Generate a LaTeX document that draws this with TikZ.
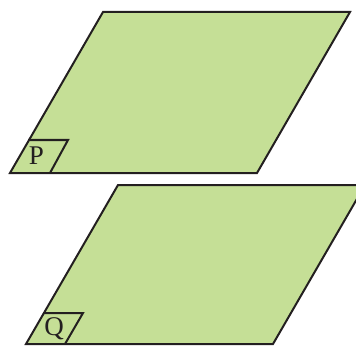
\documentclass[tikz,border=0pt]{standalone}
\usepackage{fontspec}
\setmainfont{Liberation Serif}
\begin{document}
\begin{tikzpicture}[x=1pt,y=1pt,
  plane/.style={fill=planegreen,draw=inkblack,line width=2pt,line join=miter},
  tag/.style={draw=inkblack,line width=2pt,line join=miter},
  lbl/.style={font=\fontsize{27}{27}\selectfont,text=inkblack,inner sep=0pt,anchor=center}]
\definecolor{planegreen}{HTML}{C5DF96}
\definecolor{inkblack}{HTML}{231F20}
\useasboundingbox (0,0) rectangle (356,346);
\clip (0,0) rectangle (356,346);
% top plane P
\coordinate (p1) at (10,173);
\coordinate (p2) at (257,173);
\coordinate (p3) at (350,334);
\coordinate (p4) at (103,334);
\draw[plane] (p1) -- (p2) -- (p3) -- (p4) -- cycle;
\coordinate (pa) at (50,173);
\coordinate (pb) at (68,206);
\coordinate (pc) at (28,206);
\draw[tag] (pa) -- (pb) -- (pc);
\node[lbl] (P) at (36.5,190) {P};
% bottom plane Q
\coordinate (q1) at (26,2);
\coordinate (q2) at (273,2);
\coordinate (q3) at (365,161);
\coordinate (q4) at (118,161);
\draw[plane] (q1) -- (q2) -- (q3) -- (q4) -- cycle;
\coordinate (qa) at (65,2);
\coordinate (qb) at (83,33);
\coordinate (qc) at (44,33);
\draw[tag] (qa) -- (qb) -- (qc);
\node[lbl] (Q) at (54,17) {Q};
\end{tikzpicture}
\end{document}
